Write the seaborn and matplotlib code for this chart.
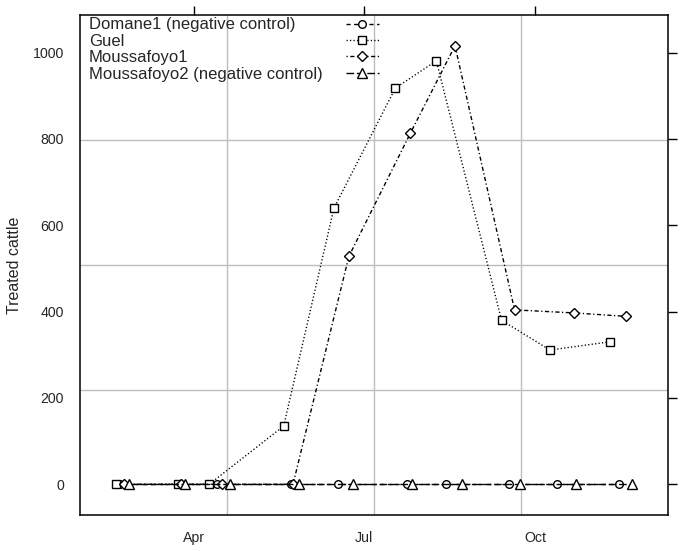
import pandas as pd
import matplotlib.pyplot as plt
import seaborn as sns
from matplotlib.lines import Line2D

# Treatment rounds per village
villages = ['Domane1 (negative control)', 'Guel', 'Moussafoyo1',
            'Moussafoyo2 (negative control)']

domane1_dates = ['2011-02-20', '2011-03-24', '2011-04-13', '2011-05-23', '2011-06-17',
                 '2011-07-24', '2011-08-14', '2011-09-17', '2011-10-13', '2011-11-15']
domane1_treated = [0, 0, 0, 0, 0, 0, 0, 0, 0, 0]

guel_dates = ['2011-02-18', '2011-03-23', '2011-04-09', '2011-05-19', '2011-06-15',
              '2011-07-18', '2011-08-09', '2011-09-13', '2011-10-09', '2011-11-10']
guel_treated = [0, 0, 0, 135, 640, 918, 981, 380, 311, 330]

moussafoyo1_dates = ['2011-02-22', '2011-03-25', '2011-04-16', '2011-05-24', '2011-06-23',
                     '2011-07-26', '2011-08-19', '2011-09-20', '2011-10-22', '2011-11-19']
moussafoyo1_treated = [0, 0, 0, 0, 528, 813, 1016, 404, 397, 389]

moussafoyo2_dates = ['2011-02-25', '2011-03-27', '2011-04-20', '2011-05-27', '2011-06-25',
                     '2011-07-27', '2011-08-23', '2011-09-23', '2011-10-23', '2011-11-22']
moussafoyo2_treated = [0, 0, 0, 0, 0, 0, 0, 0, 0, 0]

x_ticks = ['2011-04-01', '2011-07-01', '2011-10-01']
x_tick_labels = ['Apr', 'Jul', 'Oct']
y_ticks = [0, 200, 400, 600, 800, 1000]

frames = []
for name, d, v in zip(villages,
                      [domane1_dates, guel_dates, moussafoyo1_dates, moussafoyo2_dates],
                      [domane1_treated, guel_treated, moussafoyo1_treated, moussafoyo2_treated]):
    frames.append(pd.DataFrame({'village': name, 'date': pd.to_datetime(d), 'treated': v}))
df = pd.concat(frames, ignore_index=True)

# lattice-like styles
marker_map = dict(zip(villages, ['o', 's', 'D', '^']))
size_map = dict(zip(villages, [5.5, 5.5, 5, 7]))
dash_map = dict(zip(villages, [(3, 2.5), (0.9, 1.6), (0.9, 1.8, 3, 1.8), (5.5, 2)]))

sns.set_style('white')
plt.rcParams['font.family'] = ['Liberation Sans', 'DejaVu Sans']

fig = plt.figure(figsize=(6.83, 5.51), dpi=100)
ax = fig.add_axes([80 / 683, 36 / 551, 588 / 683, 500 / 551])

sns.lineplot(data=df, x='date', y='treated', style='village', style_order=villages,
             markers=marker_map, dashes=dash_map, color='black', lw=1,
             markerfacecolor='white', markeredgecolor='black', mew=1,
             markersize=5.5, errorbar=None, legend=False, ax=ax)
# triangles look a bit bigger in the reference
for line in ax.get_lines():
    if line.get_marker() == '^':
        line.set_markersize(7)
    if line.get_marker() == 'D':
        line.set_markersize(5)

# lattice default padding of 7%
xmin, xmax = df['date'].min(), df['date'].max()
pad = (xmax - xmin) * 0.07
ax.set_xlim(xmin - pad, xmax + pad)
ymax = df['treated'].max()
ax.set_ylim(-0.07 * ymax, 1.07 * ymax)

# panel.grid(h=3, v=3)
for f in (0.25, 0.5, 0.75):
    ax.plot([f, f], [0, 1], transform=ax.transAxes, color='#bebebe', lw=1, zorder=0)
    ax.plot([0, 1], [f, f], transform=ax.transAxes, color='#bebebe', lw=1, zorder=0)

ax.set_xticks(pd.to_datetime(x_ticks))
ax.set_xticklabels(x_tick_labels)
ax.set_yticks(y_ticks)
ax.tick_params(direction='out', length=6.5, width=1, color='black',
               top=True, right=True, labelsize=10.2, pad=5)
for s in ax.spines.values():
    s.set_visible(True)
    s.set_color('black')
    s.set_linewidth(1.1)

ax.set_xlabel('')
ax.set_ylabel('Treated cattle', fontsize=11.5, labelpad=8)

# key: text column on the left, line samples to the right
leg_fs = 12
blank = [Line2D([], [], lw=0) for _ in villages]
leg1 = ax.legend(blank, villages, loc='upper left', bbox_to_anchor=(0.015, 0.995),
                 frameon=False, handlelength=0, handletextpad=0, borderpad=0,
                 borderaxespad=0, labelspacing=0.08, fontsize=leg_fs)
ax.add_artist(leg1)
keys = [Line2D([], [], color='black', lw=1, dashes=dash_map[v], marker=marker_map[v],
               markersize=size_map[v], markerfacecolor='white',
               markeredgecolor='black', mew=1) for v in villages]
ax.legend(keys, [''] * 4, loc='upper left', bbox_to_anchor=(0.452, 0.995),
          frameon=False, handlelength=2.0, handletextpad=0, borderpad=0,
          borderaxespad=0, labelspacing=0.08, fontsize=leg_fs, numpoints=1)

plt.savefig('out.png', dpi=100)
